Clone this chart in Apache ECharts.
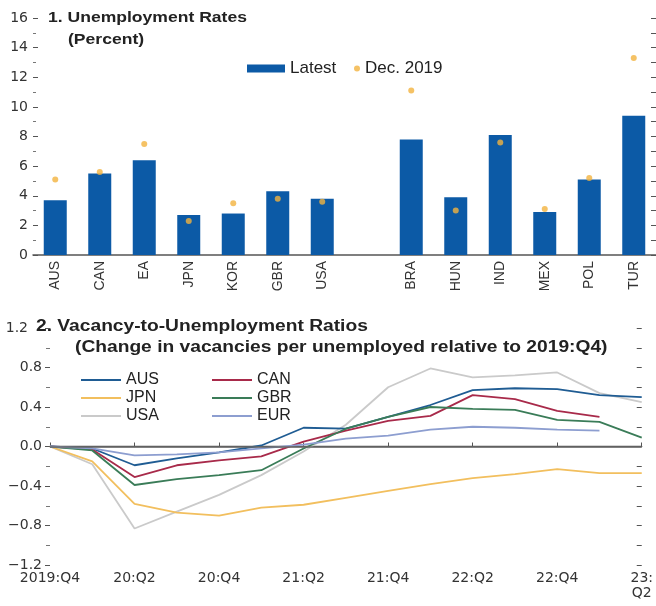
<!DOCTYPE html>
<html>
<head>
<meta charset="utf-8">
<script src="https://cdn.jsdelivr.net/npm/echarts@6/dist/echarts.min.js"></script>
<style>
html,body{margin:0;padding:0;background:#fff;}
#chart{width:656px;height:606px;}
</style>
</head>
<body>
<div id="chart"></div>
<script>
// ---- Panel 1 data ----
var countries = ['AUS','CAN','EA','JPN','KOR','GBR','USA','','BRA','HUN','IND','MEX','POL','TUR'];
var latest    = [3.7, 5.5, 6.4, 2.7, 2.8, 4.3, 3.8, null, 7.8, 3.9, 8.1, 2.9, 5.1, 9.4];
var dec2019   = [5.1, 5.6, 7.5, 2.3, 3.5, 3.8, 3.6, null, 11.1, 3.0, 7.6, 3.1, 5.2, 13.3];

// ---- Panel 2 data ----
var quarters = ['2019:Q4','20:Q1','20:Q2','20:Q3','20:Q4','21:Q1','21:Q2','21:Q3','21:Q4','22:Q1','22:Q2','22:Q3','22:Q4','23:Q1','23:Q2'];
var ausV = [0, -0.02, -0.19, -0.12, -0.06, 0.01, 0.19, 0.18, 0.30, 0.42, 0.57, 0.59, 0.58, 0.52, 0.50];
var canV = [0, -0.03, -0.31, -0.19, -0.14, -0.10, 0.05, 0.16, 0.26, 0.31, 0.52, 0.48, 0.36, 0.30, null];
var jpnV = [0, -0.15, -0.58, -0.67, -0.70, -0.62, -0.59, -0.52, -0.45, -0.38, -0.32, -0.28, -0.23, -0.27, -0.27];
var gbrV = [0, -0.04, -0.39, -0.33, -0.29, -0.24, -0.02, 0.18, 0.30, 0.40, 0.38, 0.37, 0.27, 0.25, 0.09];
var usaV = [0, -0.18, -0.83, -0.66, -0.49, -0.29, -0.05, 0.22, 0.60, 0.79, 0.70, 0.72, 0.75, 0.54, 0.45];
var eurV = [0, -0.02, -0.09, -0.08, -0.06, -0.02, 0.02, 0.08, 0.11, 0.17, 0.20, 0.19, 0.17, 0.16, null];

var lineNames  = ['AUS','CAN','JPN','GBR','USA','EUR'];
var lineData   = [ausV, canV, jpnV, gbrV, usaV, eurV];
var lineColors = ['#1f5c93','#a82a4a','#f2bf5e','#3a7c58','#cacaca','#8d9ed0'];

var chart = echarts.init(document.getElementById('chart'), null, {renderer:'canvas'});
var tickFont = 'DejaVu Sans';
var axisCol = '#555';

function fmtNum(v){
  var s = Math.abs(v).toFixed(1);
  var t = (v < 0 ? '\u2212' : '') + s;
  if (v > 1.1) return '{top|' + t + '}';
  return t;
}

var series = [
  {
    name:'Latest', type:'bar', xAxisIndex:0, yAxisIndex:0,
    data: latest, barWidth:23, itemStyle:{color:'#0c5aa6'}, z:2
  },
  {
    name:'Dec. 2019', type:'scatter', xAxisIndex:0, yAxisIndex:0,
    data: dec2019, symbol:'circle', symbolSize:6, itemStyle:{color:'#f2b33f'}, z:5
  }
];
lineNames.forEach(function(n,i){
  var s = {
    name:n, type:'line', xAxisIndex:1, yAxisIndex:2,
    data: lineData[i], symbol:'none', showSymbol:false,
    lineStyle:{color:lineColors[i], width:1.8}, itemStyle:{color:lineColors[i]},
    z: 3 + (n==='USA' ? 0 : 1)
  };
  if (i === 0) {
    s.markLine = {
      silent:true, symbol:['none','none'], label:{show:false},
      lineStyle:{color:'#666', width:1.6, type:'solid'},
      data:[{yAxis:0}]
    };
  }
  series.push(s);
});

var option = {
  animation:false,
  backgroundColor:'#ffffff',
  grid:[
    {left:33, right:0, top:18, height:237},
    {left:50, right:13, top:328, height:237}
  ],
  xAxis:[
    {
      gridIndex:0, type:'category', data:countries, boundaryGap:true,
      axisLine:{lineStyle:{color:axisCol, width:1.5}},
      axisTick:{show:false},
      axisLabel:{rotate:90, margin:6, interval:0, color:'#333', fontFamily:'Liberation Sans', fontSize:14}
    },
    {
      gridIndex:1, type:'category', data:quarters, boundaryGap:false,
      axisLine:{lineStyle:{color:axisCol, width:1.3}},
      axisTick:{show:true, inside:true, length:4, interval:1, lineStyle:{color:axisCol}},
      axisLabel:{interval:1, margin:6, color:'#333', fontFamily:tickFont, fontSize:14, lineHeight:15,
        formatter:function(v){ return v === '23:Q2' ? '23:\nQ2' : v; }}
    }
  ],
  yAxis:[
    {
      gridIndex:0, type:'value', min:0, max:16, interval:2,
      axisLine:{show:false},
      axisTick:{show:true, inside:true, length:5, lineStyle:{color:axisCol}},
      minorTick:{show:true, splitNumber:2, length:3, lineStyle:{color:'#777'}},
      axisLabel:{margin:5, color:'#333', fontFamily:tickFont, fontSize:14},
      splitLine:{show:false}
    },
    {
      gridIndex:0, type:'value', position:'right', min:0, max:16, interval:1,
      axisLine:{show:false},
      axisTick:{show:true, inside:true, length:5, lineStyle:{color:axisCol}},
      axisLabel:{show:false}, splitLine:{show:false}
    },
    {
      gridIndex:1, type:'value', min:-1.2, max:1.2, interval:0.4,
      axisLine:{show:false},
      axisTick:{show:true, inside:false, length:5, lineStyle:{color:axisCol}},
      minorTick:{show:true, splitNumber:2, length:4, lineStyle:{color:'#777'}},
      axisLabel:{margin:8, color:'#333', fontFamily:tickFont, fontSize:14, formatter:fmtNum,
        rich:{top:{fontFamily:tickFont, fontSize:14, color:'#333', padding:[0,14,0,0]}}},
      splitLine:{show:false}
    },
    {
      gridIndex:1, type:'value', position:'right', min:-1.2, max:1.2, interval:0.2,
      axisLine:{show:false},
      axisTick:{show:true, inside:true, length:5, lineStyle:{color:axisCol}},
      axisLabel:{show:false}, splitLine:{show:false}
    }
  ],
  legend:[
    {
      data:['Latest'], left:242, top:55, itemWidth:38, itemHeight:8, icon:'rect',
      textStyle:{fontFamily:'Liberation Sans', fontSize:17, color:'#222'}
    },
    {
      data:['Dec. 2019'], left:349, top:55, itemWidth:6, itemHeight:6, icon:'circle',
      textStyle:{fontFamily:'Liberation Sans', fontSize:17, color:'#222'}
    },
    {
      data:['AUS','JPN','USA'], orient:'vertical', left:76, top:367, itemWidth:40, itemHeight:2,
      icon:'rect', itemGap:2,
      textStyle:{fontFamily:'Liberation Sans', fontSize:16, color:'#222'}
    },
    {
      data:['CAN','GBR','EUR'], orient:'vertical', left:207, top:367, itemWidth:40, itemHeight:2,
      icon:'rect', itemGap:2,
      textStyle:{fontFamily:'Liberation Sans', fontSize:16, color:'#222'}
    }
  ],
  graphic:[
    {type:'text', x:48, y:18, scaleX:1.17, style:{text:'1. Unemployment Rates', font:'bold 15px "Liberation Sans"', fill:'#222', verticalAlign:'middle'}},
    {type:'text', x:68, y:40, scaleX:1.17, style:{text:'(Percent)', font:'bold 15px "Liberation Sans"', fill:'#222', verticalAlign:'middle'}},
    {type:'text', x:36, y:327, scaleX:1.2, style:{text:'2. Vacancy-to-Unemployment Ratios', font:'bold 16px "Liberation Sans"', fill:'#222', verticalAlign:'middle'}},
    {type:'text', x:75, y:348, scaleX:1.2, style:{text:'(Change in vacancies per unemployed relative to 2019:Q4)', font:'bold 16px "Liberation Sans"', fill:'#222', verticalAlign:'middle'}}
  ],
  series: series
};
chart.setOption(option);
</script>
</body>
</html>
